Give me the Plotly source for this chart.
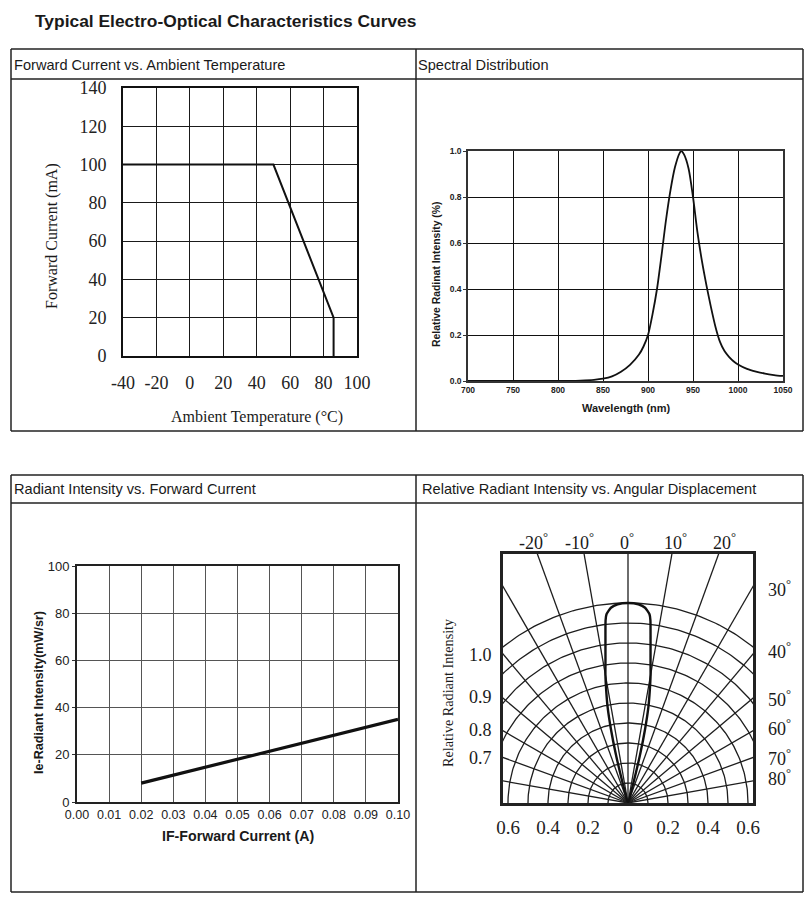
import numpy as np
import plotly.graph_objects as go

# page is shown with an 8px body margin: the figure is sized to fit inside it
OFF = 8
W, H = 812 - 2 * OFF, 905 - 2 * OFF

# ---------------- data ----------------
# Forward current vs ambient temperature (derating)
temp_c = [-40, 50, 86, 86]
fwd_current_ma = [100, 100, 20, 0]
temp_ticks = [-40, -20, 0, 20, 40, 60, 80, 100]

# Spectral distribution
wavelength_nm = [700, 800, 825, 840, 850, 860, 870, 880, 890, 895, 900, 905, 910, 915, 920, 925,
                 930, 935, 937, 940, 945, 950, 955, 960, 965, 970, 975, 980, 985, 990, 995,
                 1000, 1010, 1020, 1030, 1040, 1050]
rel_spectral = [0.0, 0.0, 0.002, 0.005, 0.01, 0.02, 0.04, 0.07, 0.115, 0.15, 0.20, 0.29, 0.40,
                0.545, 0.70, 0.83, 0.93, 0.99, 1.0, 0.985, 0.925, 0.80, 0.645, 0.52, 0.415,
                0.32, 0.235, 0.17, 0.13, 0.105, 0.086, 0.072, 0.053, 0.041, 0.032, 0.026, 0.022]

# Radiant intensity vs forward current
if_forward_a = [0.02, 0.10]
ie_mw_sr = [8.0, 35.0]

# Relative radiant intensity vs angular displacement (one side, symmetric)
beam_angle_deg = [0, 3, 5, 6.5, 7, 8, 9, 10, 11, 12, 13, 14, 15, 15.5]
beam_rel = [1.0, 0.995, 0.98, 0.95, 0.92, 0.81, 0.72, 0.65, 0.57, 0.49, 0.38, 0.25, 0.10, 0.0]

# polar grid
arc_radii = [0.1, 0.2, 0.3, 0.4, 0.5, 0.6, 0.7, 0.8, 0.9, 1.0]
spoke_angles = [-80, -70, -60, -50, -40, -30, -20, -10, 0, 10, 20, 30, 40, 50, 60, 70, 80]
top_angle_labels = [-20, -10, 0, 10, 20]
side_angle_labels = [30, 40, 50, 60, 70, 80]
side_intensity_labels = ["1.0", "0.9", "0.8", "0.7"]
polar_x_ticks = [-0.6, -0.4, -0.2, 0, 0.2, 0.4, 0.6]

# ---------------- helpers (reference pixel -> paper) ----------------
def PX(x):
    return (x - OFF) / W

def PY(y):
    return 1 - (y - OFF) / H

SERIF = "Liberation Serif, Times New Roman, serif"
SANS = "Liberation Sans, Arial, sans-serif"
INK = "#1a1a1a"

annotations = []

def ann(text, x, y, size, family=SANS, xanchor="center", yanchor="middle", angle=0,
        weight="normal", color=INK):
    annotations.append(dict(text=text, x=PX(x), y=PY(y), xref="paper", yref="paper",
                            showarrow=False, xanchor=xanchor, yanchor=yanchor,
                            textangle=angle,
                            font=dict(size=size, family=family, color=color, weight=weight)))

shapes = []

def pline(x0, y0, x1, y1, w=1.5, color="#222"):
    shapes.append(dict(type="line", xref="paper", yref="paper", x0=PX(x0), y0=PY(y0),
                       x1=PX(x1), y1=PY(y1), line=dict(color=color, width=w)))

fig = go.Figure()

# ---------------- panel 1 ----------------
fig.add_trace(go.Scatter(x=temp_c, y=fwd_current_ma, mode="lines",
                         line=dict(color="#111", width=2), xaxis="x", yaxis="y",
                         hoverinfo="skip"))

# ---------------- panel 2 ----------------
fig.add_trace(go.Scatter(x=wavelength_nm, y=rel_spectral, mode="lines",
                         line=dict(color="#111", width=1.8, shape="spline", smoothing=0.8),
                         xaxis="x2", yaxis="y2", hoverinfo="skip"))

# ---------------- panel 3 ----------------
fig.add_trace(go.Scatter(x=if_forward_a, y=ie_mw_sr, mode="lines",
                         line=dict(color="#111", width=3.2), xaxis="x3", yaxis="y3",
                         hoverinfo="skip"))

# ---------------- panel 4 (polar drawn on cartesian) ----------------
t = np.linspace(0, np.pi, 181)
for r in arc_radii:
    fig.add_trace(go.Scatter(x=r * np.cos(t), y=r * np.sin(t), mode="lines",
                             line=dict(color="#1e1e1e", width=1.3), xaxis="x4", yaxis="y4",
                             hoverinfo="skip"))
for a in spoke_angles:
    ar = np.radians(a)
    fig.add_trace(go.Scatter(x=[0, 2 * np.sin(ar)], y=[0, 2 * np.cos(ar)], mode="lines",
                             line=dict(color="#1e1e1e", width=1.3), xaxis="x4", yaxis="y4",
                             hoverinfo="skip"))
full_ang = [-a for a in beam_angle_deg[::-1]] + beam_angle_deg[1:]
full_r = beam_rel[::-1] + beam_rel[1:]
ang_r = np.radians(full_ang)
fig.add_trace(go.Scatter(x=np.array(full_r) * np.sin(ang_r), y=np.array(full_r) * np.cos(ang_r),
                         mode="lines", line=dict(color="#111", width=2.4, shape="spline",
                                                 smoothing=0.5),
                         xaxis="x4", yaxis="y4", hoverinfo="skip"))

# ---------------- layout / axes ----------------
p1 = dict(l=123, r=357, t=88, b=356)
p2 = dict(l=468, r=783, t=151, b=381)
p3 = dict(l=77, r=398, t=566, b=802)
p4 = dict(l=503, r=753, t=554, b=803)

def dom(p):
    return [PX(p["l"]), PX(p["r"])], [PY(p["b"]), PY(p["t"])]

d1x, d1y = dom(p1)
d2x, d2y = dom(p2)
d3x, d3y = dom(p3)
d4x, d4y = dom(p4)

common = dict(showline=True, mirror=True, zeroline=False, fixedrange=True, automargin=False)

fig.update_layout(
    template="none",
    width=W, height=H, margin=dict(l=0, r=0, t=0, b=0, pad=0, autoexpand=False),
    paper_bgcolor="white", plot_bgcolor="white", showlegend=False,
    xaxis=dict(domain=d1x, anchor="y", range=[-40, 100], tickvals=temp_ticks,
               ticktext=[str(v) for v in temp_ticks],
               showgrid=True, gridcolor="#1a1a1a", gridwidth=1, linecolor="#111", linewidth=2,
               ticks="", ticklabelstandoff=9,
               tickfont=dict(family=SERIF, size=18, color="#222"), **common),
    yaxis=dict(domain=d1y, anchor="x", range=[0, 140], tickvals=list(range(0, 141, 20)),
               showgrid=True, gridcolor="#1a1a1a", gridwidth=1, linecolor="#111", linewidth=2,
               ticks="", ticklabelstandoff=11,
               tickfont=dict(family=SERIF, size=18, color="#222"), **common),
    xaxis2=dict(domain=d2x, anchor="y2", range=[700, 1050], tickvals=list(range(700, 1051, 50)),
                showgrid=True, gridcolor="#111", gridwidth=1, linecolor="#333", linewidth=1.5,
                ticks="", ticklabelstandoff=0,
                tickfont=dict(family=SANS, size=8.5, color="#222", weight="bold"), **common),
    yaxis2=dict(domain=d2y, anchor="x2", range=[0, 1.0], tickvals=[0, 0.2, 0.4, 0.6, 0.8, 1.0],
                tickformat=".1f", showgrid=True, gridcolor="#111", gridwidth=1,
                linecolor="#333", linewidth=1.5, ticks="outside", ticklen=3, tickcolor="#333",
                tickfont=dict(family=SANS, size=8.5, color="#222", weight="bold"), **common),
    xaxis3=dict(domain=d3x, anchor="y3", range=[0, 0.1], dtick=0.01, tick0=0, tickformat=".2f",
                showgrid=True, gridcolor="#555", gridwidth=1, linecolor="#222", linewidth=2,
                ticks="", ticklabelstandoff=0,
                tickfont=dict(family=SANS, size=12.5, color="#222"), **common),
    yaxis3=dict(domain=d3y, anchor="x3", range=[0, 100], tickvals=list(range(0, 101, 20)),
                showgrid=True, gridcolor="#555", gridwidth=1, linecolor="#222", linewidth=2,
                ticks="outside", ticklen=3, tickcolor="#333",
                tickfont=dict(family=SANS, size=13, color="#222"), **common),
    xaxis4=dict(domain=d4x, anchor="y4", range=[-0.625, 0.625], tickvals=polar_x_ticks,
                ticktext=[f"{abs(v):g}" for v in polar_x_ticks], showgrid=False,
                linecolor="#222", linewidth=2.5, ticks="", ticklabelstandoff=5,
                tickfont=dict(family=SERIF, size=19, color="#222"), **common),
    yaxis4=dict(domain=d4y, anchor="x4", range=[0, 1.245], showgrid=False,
                showticklabels=False, linecolor="#222", linewidth=2.5, ticks="", **common),
)

# ---------------- frames ----------------
for (top, hdr, bot) in [(49, 79, 431), (475, 503, 892)]:
    pline(11, top, 803, top)
    pline(11, bot, 803, bot)
    pline(11, top, 11, bot)
    pline(803, top, 803, bot)
    pline(11, hdr, 803, hdr)
    pline(416, top, 416, bot)

# ---------------- texts ----------------
ann("Typical Electro-Optical Characteristics Curves", 33, 21, 17.4, weight="bold",
    xanchor="left")
ann("Forward Current vs. Ambient Temperature", 12, 65, 14.6, xanchor="left")
ann("Spectral Distribution", 416, 65, 14.6, xanchor="left")
ann("Radiant Intensity vs. Forward Current", 12, 489, 14.6, xanchor="left")
ann("Relative Radiant Intensity vs. Angular Displacement", 420, 489, 14.6, xanchor="left")

# panel 1 titles
ann("Forward Current (mA)", 52, 236, 16, family=SERIF, angle=-90)
ann("Ambient Temperature (°C)", 257, 417, 16, family=SERIF)

# panel 2 titles
ann("Wavelength (nm)", 626, 408, 11, weight="bold")
ann("Relative Radinat Intensity (%)", 436, 274, 10.4, weight="bold", angle=-90)

# panel 3 titles
ann("Ie-Radiant Intensity(mW/sr)", 39, 693, 12.6, weight="bold", angle=-90)
ann("IF-Forward Current (A)", 238, 836, 14.2, weight="bold")

# panel 4 texts
ann("Relative Radiant Intensity", 448, 692, 14.2, family=SERIF, angle=-90)
for txt, yy in zip(side_intensity_labels, [655, 697, 730, 758]):
    ann(txt, 480, yy, 18, family=SERIF)
for a, xx in zip(top_angle_labels, [533, 579, 627, 675, 724]):
    ann(f"{a}<sup>°</sup>", xx, 541, 18, family=SERIF)
for a, yy in zip(side_angle_labels, [588, 650, 698, 727, 757, 777]):
    ann(f"{a}<sup>°</sup>", 779, yy, 18, family=SERIF)

fig.update_layout(annotations=annotations, shapes=shapes)
fig.write_html("out.html")
